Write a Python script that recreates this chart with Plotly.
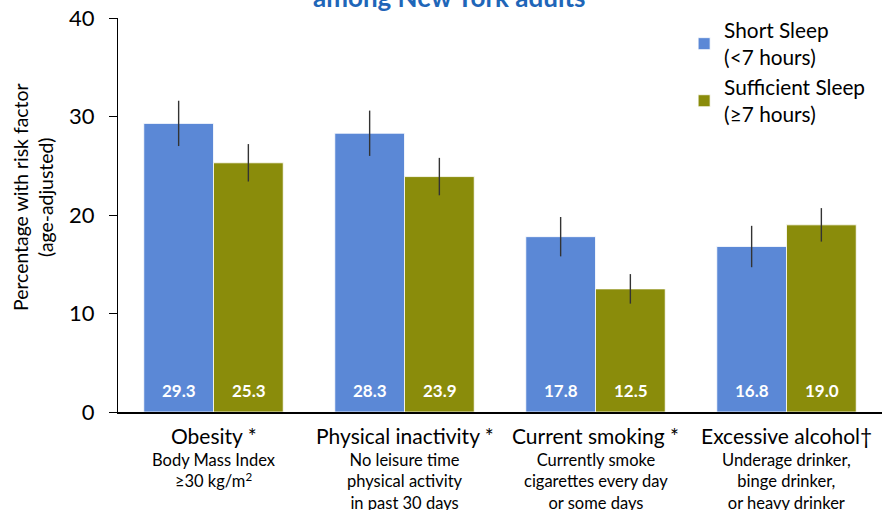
import plotly.graph_objects as go

categories = ["Obesity *", "Physical inactivity *", "Current smoking *", "Excessive alcohol†"]
descriptions = [
    "Body Mass Index<br>≥30 kg/m<sup>2</sup>",
    "No leisure time<br>physical activity<br>in past 30 days",
    "Currently smoke<br>cigarettes every day<br>or some days",
    "Underage drinker,<br>binge drinker,<br>or heavy drinker",
]
short_sleep = [29.3, 28.3, 17.8, 16.8]
short_err = [2.3, 2.3, 2.0, 2.1]
sufficient_sleep = [25.3, 23.9, 12.5, 19.0]
sufficient_err = [1.9, 1.9, 1.5, 1.7]
y_ticks = [0, 10, 20, 30, 40]

BLUE = "#5B88D6"
OLIVE = "#8A8C0B"
FONT = "Lato, 'Open Sans', sans-serif"

fig = go.Figure()
fig.add_trace(go.Bar(
    x=categories, y=short_sleep, name="Short Sleep<br>(<7 hours)",
    marker=dict(color=BLUE, line=dict(color="white", width=0.8)),
    error_y=dict(type="data", array=short_err, color="#333333", thickness=1.4, width=0),
))
fig.add_trace(go.Bar(
    x=categories, y=sufficient_sleep, name="Sufficient Sleep<br>(≥7 hours)",
    marker=dict(color=OLIVE, line=dict(color="white", width=0.8)),
    error_y=dict(type="data", array=sufficient_err, color="#333333", thickness=1.4, width=0),
))

annotations = []
for i, c in enumerate(categories):
    for vals, shift in ((short_sleep, -35), (sufficient_sleep, 35)):
        annotations.append(dict(
            x=c, y=2.2, xref="x", yref="y", xshift=shift,
            text=f"<b>{vals[i]:.1f}</b>", showarrow=False,
            font=dict(family=FONT, size=17, color="white"),
        ))
    annotations.append(dict(
        x=c, y=-0.0609, xref="x", yref="paper", yanchor="middle",
        text=c, showarrow=False,
        font=dict(family=FONT, size=21, color="black"),
    ))
    annotations.append(dict(
        x=c, y=-0.0914, xref="x", yref="paper", yanchor="top",
        text=descriptions[i], showarrow=False,
        font=dict(family=FONT, size=16.5, color="black"),
    ))
annotations.append(dict(
    x=0.4332, y=1.0533, xref="paper", yref="paper", yanchor="middle", xanchor="center",
    text="<b>among New York adults</b>", showarrow=False,
    font=dict(family=FONT, size=26, color="#1F66B8"),
))
annotations.append(dict(
    x=-0.1113, y=0.5457, xref="paper", yref="paper", xanchor="center", yanchor="middle",
    text="Percentage with risk factor<br>(age-adjusted)", textangle=-90, showarrow=False,
    font=dict(family=FONT, size=19.4, color="black"),
))

fig.update_layout(
    width=885, height=510,
    margin=dict(l=118, r=3, t=18, b=98, autoexpand=False),
    paper_bgcolor="white", plot_bgcolor="white",
    barmode="group", bargap=0.27, bargroupgap=0,
    font=dict(family=FONT, size=19, color="black"),
    showlegend=True,
    legend=dict(x=0.741, y=1.02, xanchor="left", yanchor="top",
                font=dict(family=FONT, size=20.8, color="black"),
                bgcolor="rgba(0,0,0,0)", tracegroupgap=2, itemwidth=30),
    annotations=annotations,
    xaxis=dict(
        tickmode="array", tickvals=categories, showticklabels=False,
        showline=True, linecolor="black", linewidth=1.5, ticks="",
        showgrid=False, automargin=False,
    ),
    yaxis=dict(
        range=[0, 40], tickvals=y_ticks, showgrid=False, zeroline=False,
        showline=True, linecolor="black", linewidth=1.2, ticks="outside",
        ticklen=8, tickcolor="black", ticklabelstandoff=10,
        ticklabeloverflow="allow",
        tickfont=dict(family=FONT, size=22, color="black"),
        automargin=False,
    ),
)

fig.write_html("out.html", config={"displayModeBar": False},
               post_script="document.body.style.margin='0px';")
